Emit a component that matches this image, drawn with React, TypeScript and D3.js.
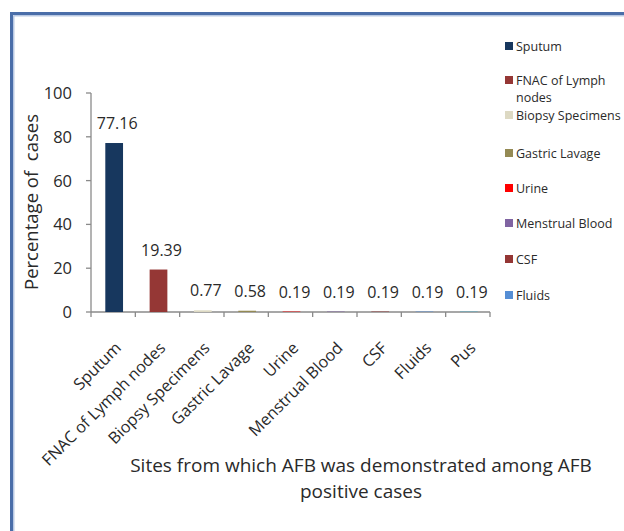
import React from "react";
import * as d3 from "d3";

const categories = ["Sputum", "FNAC of Lymph nodes", "Biopsy Specimens", "Gastric Lavage", "Urine", "Menstrual Blood", "CSF", "Fluids", "Pus"];
const values = [77.16, 19.39, 0.77, 0.58, 0.19, 0.19, 0.19, 0.19, 0.19];
const colors = ["#17375E", "#953735", "#DDD9C3", "#948A54", "#FF0000", "#8064A2", "#943634", "#558ED5", "#4BACC6"];
const yTicks = [0, 20, 40, 60, 80, 100];
const legendItems = ["Sputum", "FNAC of Lymph nodes", "Biopsy Specimens", "Gastric Lavage", "Urine", "Menstrual Blood", "CSF", "Fluids"];
const legendLines = [["Sputum"], ["FNAC of Lymph", "nodes"], ["Biopsy Specimens"], ["Gastric Lavage"], ["Urine"], ["Menstrual Blood"], ["CSF"], ["Fluids"]];
const legendY = [46, 80, 115, 153, 188, 223, 259, 295];

const FONT = "'Open Sans', Lato, sans-serif";

export default function App() {
  const W = 624, H = 531;
  const x0 = 91, x1 = 490, yBottom = 312, yTop = 93;
  const x = d3.scaleBand<string>().domain(categories).range([x0, x1]).paddingInner(0.6).paddingOuter(0.3);
  const y = d3.scaleLinear().domain([0, 100]).range([yBottom, yTop]);
  const step = (x1 - x0) / categories.length;
  const axisColor = "#8a8a8a";
  const textColor = "#2a2a2a";

  return (
    <svg width={W} height={H} style={{ position: "absolute", left: 0, top: 0, background: "#fff" }}>
      <rect x={0} y={0} width={W} height={H} fill="#fff" />
      {/* frame */}
      <rect x={11.5} y={13.5} width={W + 20} height={H + 20} fill="none" stroke="#4A6EA9" strokeWidth={3} />
      <rect x={13.8} y={15.8} width={W + 20} height={H + 20} fill="none" stroke="#A9BCDD" strokeWidth={1.2} />

      {/* y axis */}
      <line x1={x0} x2={x0} y1={yTop} y2={yBottom} stroke={axisColor} strokeWidth={1.3} />
      {yTicks.map((t) => (
        <g key={t}>
          <line x1={x0 - 5} x2={x0} y1={y(t)} y2={y(t)} stroke={axisColor} strokeWidth={1.3} />
          <text x={x0 - 19} y={y(t)} dy="0.36em" textAnchor="end" fontFamily={FONT} fontSize={16.5} fill={textColor}>{t}</text>
        </g>
      ))}

      {/* x axis */}
      <line x1={x0} x2={x1} y1={yBottom} y2={yBottom} stroke={axisColor} strokeWidth={1.3} />
      {d3.range(categories.length + 1).map((i) => (
        <line key={i} x1={x0 + i * step} x2={x0 + i * step} y1={yBottom} y2={yBottom + 5} stroke={axisColor} strokeWidth={1.3} />
      ))}

      {/* bars */}
      {categories.map((c, i) => (
        <rect key={c} x={x(c)! + 1} y={y(values[i])} width={x.bandwidth()} height={yBottom - y(values[i])} fill={colors[i]} />
      ))}

      {/* data labels */}
      {categories.map((c, i) => (
        <text key={c} x={x(c)! + x.bandwidth() / 2 + 4} y={y(values[i]) - 14} textAnchor="middle" fontFamily={FONT} fontSize={16} fill={textColor}>
          {values[i].toFixed(2)}
        </text>
      ))}

      {/* x labels */}
      {categories.map((c) => {
        const cx = x(c)! + x.bandwidth() / 2 + 5;
        const cy = yBottom + 33;
        return (
          <text key={c} x={cx} y={cy} dy="0.35em" textAnchor="end" transform={`rotate(-45 ${cx} ${cy})`} fontFamily={FONT} fontSize={16.2} fill={textColor}>
            {c}
          </text>
        );
      })}

      {/* y title */}
      <text transform={`translate(38 202) rotate(-90)`} textAnchor="middle" fontFamily={FONT} fontSize={18.5} fill={textColor} style={{ whiteSpace: "pre" }}>
        {"Percentage of  cases"}
      </text>

      {/* x title */}
      <text textAnchor="middle" fontFamily={FONT} fontSize={19} fill={textColor}>
        <tspan x={361} y={471.5}>Sites from which AFB was demonstrated among AFB</tspan>
        <tspan x={361} y={497.5}>positive cases</tspan>
      </text>

      {/* legend */}
      {legendItems.map((item, i) => (
        <g key={item}>
          <rect x={505} y={legendY[i] - 4} width={8} height={8} fill={colors[i]} />
          <text fontFamily={FONT} fontSize={12.5} fill={textColor}>
            {legendLines[i].map((ln, j) => (
              <tspan key={j} x={516} y={legendY[i] + 4.5 + j * 17.5}>{ln}</tspan>
            ))}
          </text>
        </g>
      ))}
    </svg>
  );
}
